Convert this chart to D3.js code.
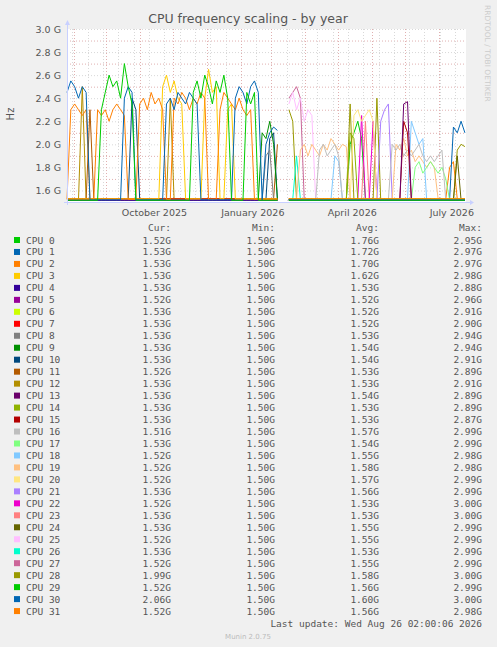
<!DOCTYPE html>
<html><head><meta charset="utf-8">
<script src="https://cdn.jsdelivr.net/npm/d3@7"></script>
<style>body{margin:0;background:#F0F0F0}svg{display:block}</style></head>
<body><svg id="c" width="497" height="647"></svg>
<script>
const cpus = d3.range(32).map(i => "CPU " + i);
const colors = ["#00CC00","#0066B3","#FF8000","#FFCC00","#330099","#990099","#CCFF00","#FF0000","#808080","#008F00","#00487D","#B35A00","#B38F00","#6B006B","#8FB300","#B30000","#BEBEBE","#80FF80","#80C9FF","#FFC080","#FFE680","#AA80FF","#EE00CC","#FF8080","#666600","#FFBFFF","#00FFCC","#CC6699","#999900","#00CC00","#0066B3","#FF8000"];
const curV = ["1.52G","1.53G","1.53G","1.53G","1.53G","1.52G","1.53G","1.53G","1.53G","1.53G","1.53G","1.52G","1.53G","1.53G","1.53G","1.53G","1.51G","1.53G","1.52G","1.52G","1.52G","1.53G","1.52G","1.53G","1.53G","1.52G","1.53G","1.52G","1.99G","1.52G","2.06G","1.52G"];
const minV = ["1.50G","1.50G","1.50G","1.50G","1.50G","1.50G","1.50G","1.50G","1.50G","1.50G","1.50G","1.50G","1.50G","1.50G","1.50G","1.50G","1.50G","1.50G","1.50G","1.50G","1.50G","1.50G","1.50G","1.50G","1.50G","1.50G","1.50G","1.50G","1.50G","1.50G","1.50G","1.50G"];
const avgV = ["1.76G","1.72G","1.70G","1.62G","1.53G","1.52G","1.52G","1.52G","1.53G","1.54G","1.54G","1.53G","1.53G","1.54G","1.53G","1.53G","1.57G","1.54G","1.55G","1.58G","1.57G","1.56G","1.53G","1.53G","1.55G","1.55G","1.53G","1.55G","1.58G","1.56G","1.60G","1.56G"];
const maxV = ["2.95G","2.97G","2.97G","2.98G","2.88G","2.96G","2.91G","2.90G","2.94G","2.94G","2.91G","2.89G","2.91G","2.89G","2.89G","2.87G","2.99G","2.99G","2.98G","2.98G","2.99G","2.99G","3.00G","3.00G","2.99G","2.99G","2.99G","2.99G","3.00G","2.99G","3.00G","2.98G"];
const yTicks = [1.6,1.8,2.0,2.2,2.4,2.6,2.8,3.0];
const monthLabels = [["October 2025","2025-11-14"],["January 2026","2026-02-12"],["April 2026","2026-05-14"],["July 2026","2026-08-13"]];
// samples every 3.5 days from 2025-08-26; runs: [startIndex, values...]; baseline elsewhere
const nSamples = 105, gapIdx = [56,57], baseline = 1.515;
const runs = {
 0:[[9,2.3,2.45,2.6,2.5,2.55,2.4,2.7,2.5,2.35],[33,2.45,2.55,2.4,2.6,2.5,2.35,2.55,2.45,2.6,2.4],[47,2.45,2.35,2.45]],
 1:[[0,2.45,2.55,2.5,2.4,2.5,2.45],[15,2.4,2.5,2.45],[26,2.35,2.4,2.3,2.45,2.4,2.35,2.45,2.4,2.35],[44,2.4,2.5,2.45,2.35,2.5,2.55,2.45],[52,2.0,2.1,2.15,2.12]],
 2:[[1,2.3,2.35,2.3,2.25,2.3],[8,2.3,2.25,2.3,2.2,2.3,2.35,2.3,2.25],[19,2.35,2.4,2.3,2.45,2.35,2.4,2.3],[28,2.4,2.35,2.45,2.4,2.3,2.4,2.35,2.45,2.4],[40,2.3,2.45,2.4,2.35,2.3,2.4,2.3,2.25,2.3]],
 3:[[25,2.5,2.6,2.45,2.55,2.4,2.35],[36,2.4,2.65,2.45,2.5],[42,2.3,2.35]],
 9:[[51,2.1,2.05,2.2,2.0]],
 10:[[17,2.4,2.3],[53,2.05,2.1]],
 11:[[6,2.3],[55,2.0,2.02]],
 12:[[4,2.5],[27,2.4]],
 8:[[52,1.9,1.95]],
 13:[[88,2.35,2.37]],
 15:[[88,2.2,2.1]],
 14:[[74,2.1,2.05]],
 16:[[66,1.95,2.0,1.9,1.95,2.0,1.9],[85,2.0,1.95,2.0,1.9,1.95,1.9,1.95,2.0,1.9,1.85,1.9,1.85,1.9,1.95]],
 17:[[91,1.8,1.85,1.75,1.8,1.85,1.8,1.75,1.8,1.7]],
 18:[[70,1.9,1.85],[90,2.2,2.1,2.0,2.05]],
 19:[[61,1.95,2.0,1.9,2.0,1.95,1.9,2.0,1.95,2.05,2.0,1.95,2.0,1.98],[86,2.0,1.95,2.05,1.9,1.95,1.85,1.9,1.85,1.8,1.85,1.8]],
 20:[[75,2.25,2.3,2.2,2.25,2.3,2.2]],
 21:[[82,2.2,2.3,2.35]],
 22:[[77,2.25],[80,2.2]],
 23:[[78,2.2]],
 24:[[102,1.9]],
 25:[[58,2.35,2.45,2.3,2.4,2.2,2.3,2.25]],
 26:[[60,1.9]],
 27:[[58,2.4,2.45,2.5,2.4]],
 28:[[58,2.3,2.2],[74,2.35],[81,2.4],[102,1.95,2.0,1.98]],
 29:[[74,2.0,2.1,2.2,2.05]],
 30:[[101,2.15,2.1,2.2,2.1]],
 31:[[100,1.8,1.85]]
};
const start = new Date("2025-08-26"), msStep = 3.5*864e5;
const svg = d3.select("#c");
const x = d3.scaleTime().domain([start, new Date("2026-08-26")]).range([67,466]);
const y = d3.scaleLinear().domain([1.5,3.0]).range([202,29]);
svg.append("rect").attr("x",67).attr("y",29).attr("width",399).attr("height",173).attr("fill","#fff");
const minorY = d3.range(1.6,3.01,0.1);
svg.selectAll(".gy").data(minorY).join("line").attr("x1",67).attr("x2",466).attr("y1",d=>y(d)+.5).attr("y2",d=>y(d)+.5)
 .attr("stroke",(d,i)=>i%2?"#e0b0b0":"#d8d8d8").attr("stroke-dasharray","1,2");
const weeks = d3.timeWeek.range(start, new Date("2026-08-26"), 2);
svg.selectAll(".gx").data(weeks).join("line").attr("x1",d=>Math.round(x(d))+.5).attr("x2",d=>Math.round(x(d))+.5).attr("y1",29).attr("y2",202).attr("stroke","#d8d8d8").attr("stroke-dasharray","1,2");
const months = d3.timeMonth.range(start, new Date("2026-08-26"));
svg.selectAll(".gm").data(months).join("line").attr("x1",d=>Math.round(x(d))+.5).attr("x2",d=>Math.round(x(d))+.5).attr("y1",29).attr("y2",202).attr("stroke","#e0b0b0").attr("stroke-dasharray","1,2");
const line = d3.line().defined(d=>d.v!=null).x(d=>x(d.t)).y(d=>y(d.v));
for (let c=31;c>=0;c--){
  const vals = d3.range(nSamples).map(i => gapIdx.includes(i)?null:baseline + (c%4)*0.004);
  (runs[c]||[]).forEach(r => r.slice(1).forEach((v,k)=>{ if(!gapIdx.includes(r[0]+k)) vals[r[0]+k]=v; }));
  const pts = vals.map((v,i)=>({t:new Date(+start+i*msStep), v}));
  svg.append("path").datum(pts).attr("d",line).attr("fill","none").attr("stroke",colors[c]).attr("stroke-width",1);
}
svg.append("line").attr("x1",64).attr("x2",470).attr("y1",202.5).attr("y2",202.5).attr("stroke","#c8d0ff");
svg.append("line").attr("x1",67.5).attr("x2",67.5).attr("y1",22).attr("y2",205).attr("stroke","#c8d0ff");
svg.append("path").attr("d","M470,200 L474,202.5 L470,205 Z").attr("fill","#c8d0ff");
svg.append("path").attr("d","M65,25 L67.5,20 L70,25 Z").attr("fill","#c8d0ff");
svg.selectAll(".yl").data(yTicks).join("text").attr("x",61).attr("y",d=>y(d)+3.5).attr("text-anchor","end")
 .attr("font-family","DejaVu Sans").attr("font-size",9.5).attr("fill","#555").text(d=>d.toFixed(1)+" G");
svg.selectAll(".xl").data(monthLabels).join("text").attr("x",d=>x(new Date(d[1]))).attr("y",215.5)
 .attr("text-anchor","middle").attr("font-family","DejaVu Sans").attr("font-size",9.5).attr("fill","#555").text(d=>d[0]);
svg.append("text").attr("x",248).attr("y",23).attr("text-anchor","middle").attr("font-family","DejaVu Sans").attr("font-size",12.5).attr("fill","#555").text("CPU frequency scaling - by year");
svg.append("text").attr("transform","translate(14,114) rotate(-90)").attr("text-anchor","middle").attr("font-family","DejaVu Sans").attr("font-size",10).attr("fill","#555").text("Hz");
svg.append("text").attr("transform","translate(485,5) rotate(90)").attr("font-family","DejaVu Sans").attr("font-size",7.5).attr("fill","#ccc").text("RRDTOOL / TOBI OETIKER");
const mono = "DejaVu Sans Mono", fs = 9.5;
const cols = [171,275,379,482], heads = ["Cur:","Min:","Avg:","Max:"];
heads.forEach((h,i)=>svg.append("text").attr("x",cols[i]).attr("y",231).attr("text-anchor","end").attr("font-family",mono).attr("font-size",fs).attr("fill","#555").text(h));
const g = svg.selectAll(".lg").data(cpus).join("g").attr("transform",(d,i)=>`translate(0,${240+i*11.97})`);
g.append("rect").attr("x",14).attr("y",-3).attr("width",6).attr("height",6).attr("fill",(d,i)=>colors[i]);
g.append("text").attr("x",26).attr("y",3.5).attr("font-family",mono).attr("font-size",fs).attr("fill","#555").text(d=>d);
[curV,minV,avgV,maxV].forEach((arr,j)=>g.append("text").attr("x",cols[j]).attr("y",3.5).attr("text-anchor","end").attr("font-family",mono).attr("font-size",fs).attr("fill","#555").text((d,i)=>arr[i]));
svg.append("text").attr("x",482).attr("y",627).attr("text-anchor","end").attr("font-family",mono).attr("font-size",fs).attr("fill","#555").text("Last update: Wed Aug 26 02:00:06 2026");
svg.append("text").attr("x",248).attr("y",639).attr("text-anchor","middle").attr("font-family","DejaVu Sans").attr("font-size",7).attr("fill","#bbb").text("Munin 2.0.75");
</script></body></html>
